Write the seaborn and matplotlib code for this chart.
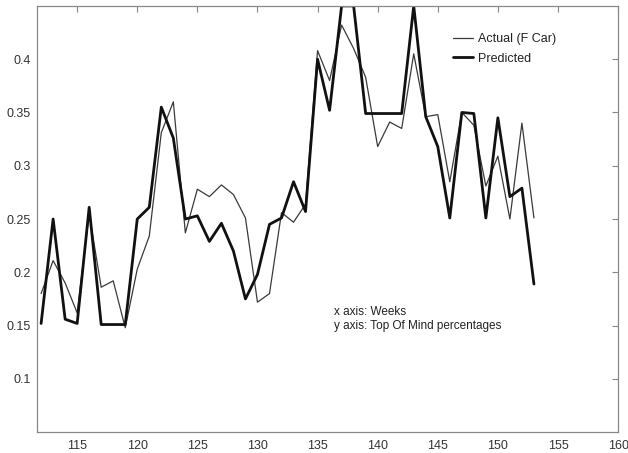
import numpy as np
import pandas as pd
import matplotlib
matplotlib.use("Agg")
import matplotlib.pyplot as plt
import seaborn as sns
from matplotlib.lines import Line2D

weeks = list(range(112, 154))
actual = [0.180, 0.211, 0.190, 0.162, 0.255, 0.186, 0.192, 0.148, 0.203, 0.234,
          0.331, 0.360, 0.237, 0.278, 0.271, 0.282, 0.273, 0.251, 0.172, 0.180,
          0.256, 0.247, 0.264, 0.408, 0.380, 0.432, 0.410, 0.383, 0.318, 0.341,
          0.335, 0.405, 0.346, 0.348, 0.285, 0.350, 0.338, 0.281, 0.309, 0.250,
          0.340, 0.251]
predicted = [0.152, 0.250, 0.156, 0.152, 0.261, 0.151, 0.151, 0.151, 0.250, 0.261,
             0.355, 0.326, 0.250, 0.253, 0.229, 0.246, 0.220, 0.175, 0.198, 0.245,
             0.251, 0.285, 0.257, 0.400, 0.352, 0.450, 0.450, 0.349, 0.349, 0.349,
             0.349, 0.450, 0.346, 0.318, 0.251, 0.350, 0.349, 0.251, 0.345, 0.271,
             0.279, 0.189]
x_ticks = [115, 120, 125, 130, 135, 140, 145, 150, 155, 160]
y_ticks = [0.1, 0.15, 0.2, 0.25, 0.3, 0.35, 0.4]
y_tick_labels = ["0.1", "0.15", "0.2", "0.25", "0.3", "0.35", "0.4"]
series_names = ["Actual (F Car)", "Predicted"]

df = pd.DataFrame({"week": weeks, series_names[0]: actual, series_names[1]: predicted})
long = df.melt(id_vars="week", var_name="series", value_name="value")

sns.set_style("white")
plt.rcParams["font.family"] = ["Liberation Sans", "DejaVu Sans"]

fig = plt.figure(figsize=(6.28, 4.53), dpi=100)
ax = fig.add_axes([0.0597, 0.046, 0.9245, 0.941])

sns.lineplot(data=long, x="week", y="value", hue="series", size="series",
             palette={series_names[0]: "#3a3a3a", series_names[1]: "#111111"},
             sizes={series_names[0]: 0.9, series_names[1]: 2.0},
             ax=ax, legend=False)

ax.set_xlim(111.7, 160)
ax.set_ylim(0.05, 0.45)
ax.set_xticks(x_ticks)
ax.set_yticks(y_ticks)
ax.set_yticklabels(y_tick_labels)
ax.set_xlabel("")
ax.set_ylabel("")
ax.tick_params(direction="in", length=4, width=0.8, color="#888888",
               labelsize=9, labelcolor="#333333", top=True, right=True,
               labeltop=False, labelright=False)
ax.tick_params(axis="x", pad=6)
ax.tick_params(axis="y", pad=5)
for s in ax.spines.values():
    s.set_visible(True)
    s.set_color("#888888")
    s.set_linewidth(0.9)

handles = [Line2D([], [], color="#3a3a3a", lw=0.9),
           Line2D([], [], color="#111111", lw=2.0)]
ax.legend(handles, series_names, loc="upper right", bbox_to_anchor=(0.913, 0.962),
          frameon=False, fontsize=9, handlelength=1.6, handletextpad=0.4,
          labelspacing=0.6, labelcolor="#222222")

fig.text(334 / 628, 1 - 319 / 453, "x axis: Weeks\ny axis: Top Of Mind percentages",
         fontsize=8.5, color="#222222", va="center", ha="left", linespacing=1.3)

fig.savefig("out.png", dpi=100)
